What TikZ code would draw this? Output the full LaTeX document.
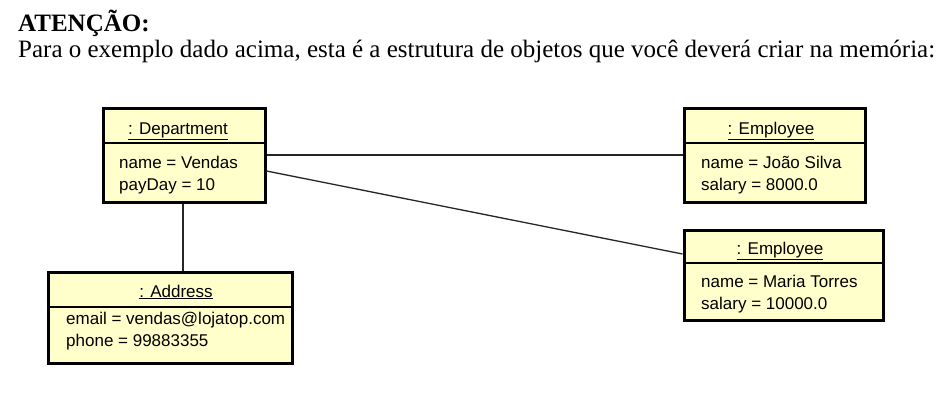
\documentclass[tikz,border=0pt]{standalone}
\usepackage{fontspec}
\setmainfont{Liberation Serif}
\newfontfamily\umlfont{Liberation Sans}
\definecolor{umlfill}{HTML}{FFFFCC}
\begin{document}
\begin{tikzpicture}[x=1pt,y=-1pt,
  objbox/.style={draw=black, line width=3pt, fill=umlfill, inner sep=0pt},
  divider/.style={draw=black, line width=1.4pt},
  link/.style={draw=black!85, line width=1.3pt},
  hdr/.style={font=\umlfont\fontsize{17}{20}\selectfont, anchor=base, inner sep=0pt},
  attr/.style={font=\umlfont\fontsize{17}{20}\selectfont, anchor=base west, inner sep=0pt},
  txt/.style={font=\fontsize{25}{29}\selectfont, anchor=base west, inner sep=0pt}]
\useasboundingbox (0,0) rectangle (948,400);
\fill[white] (0,0) rectangle (948,400);

\node[txt] (title) at (18,31) {\bfseries ATENÇÃO:};
\node[txt] (intro) at (18,57) {Para o exemplo dado acima, esta é a estrutura de objetos que você deverá criar na memória:};

% boxes
\node[objbox, minimum width=162pt, minimum height=94pt] (dept) at (184,155) {};
\node[objbox, minimum width=181pt, minimum height=94pt] (emp1) at (774.5,155) {};
\node[objbox, minimum width=199pt, minimum height=90pt] (emp2) at (783.5,275) {};
\node[objbox, minimum width=244pt, minimum height=91pt] (addr) at (170,317.5) {};

% connectors
\draw[link] (dept.east |- 0,155) -- (emp1.west |- 0,155);
\draw[link] (dept.east |- 0,171) -- (emp2.west |- 0,254);
\draw[link] (dept.south -| 183,0) -- (addr.north -| 183,0);

% dividers
\draw[divider] (dept.west |- 0,143) -- (dept.east |- 0,143);
\draw[divider] (emp1.west |- 0,143) -- (emp1.east |- 0,143);
\draw[divider] (emp2.west |- 0,263) -- (emp2.east |- 0,263);
\draw[divider] (addr.west |- 0,307) -- (addr.east |- 0,307);

% texts
\node[hdr] (deptT) at (178,134) {\underline{: Department}};
\node[attr] (deptA1) at (119,168) {name = Vendas};
\node[attr] (deptA2) at (119,190) {payDay = 10};

\node[hdr] (emp1T) at (771,134) {\underline{: Employee}};
\node[attr] (emp1A1) at (701,168) {name = João Silva};
\node[attr] (emp1A2) at (701,190) {salary = 8000.0};

\node[hdr] (emp2T) at (780,254) {\underline{: Employee}};
\node[attr] (emp2A1) at (701,287) {name = Maria Torres};
\node[attr] (emp2A2) at (701,309) {salary = 10000.0};

\node[hdr] (addrT) at (176,297) {\underline{: Address}};
\node[attr] (addrA1) at (66,324) {email = vendas@lojatop.com};
\node[attr] (addrA2) at (66,346) {phone = 99883355};
\end{tikzpicture}
\end{document}
